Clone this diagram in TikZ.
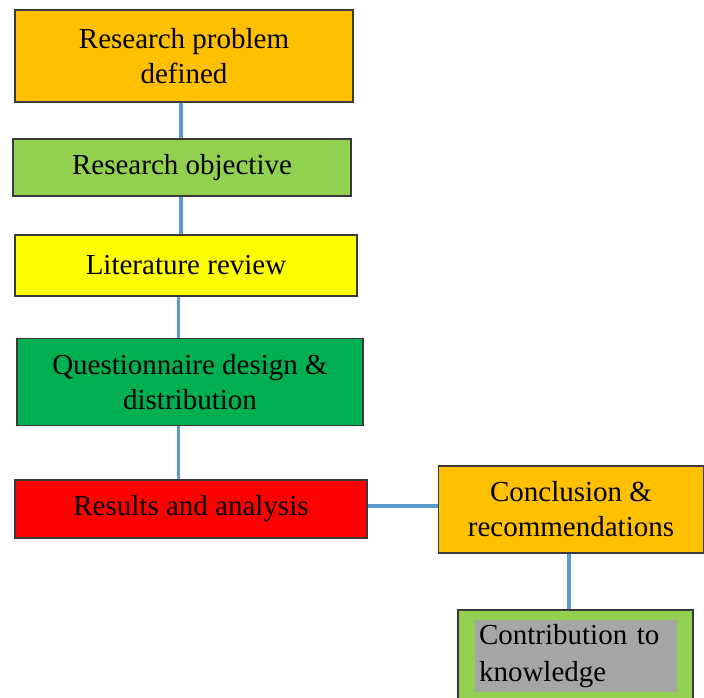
\documentclass[tikz,border=0pt]{standalone}
\usepackage{fontspec}
\setmainfont{Liberation Serif}
\definecolor{cOrange}{HTML}{FFC000}
\definecolor{cLime}{HTML}{92D050}
\definecolor{cYellow}{HTML}{FFFF00}
\definecolor{cGreen}{HTML}{00B050}
\definecolor{cRed}{HTML}{FF0000}
\definecolor{cGrey}{HTML}{A6A6A6}
\definecolor{cLink}{HTML}{5B9BD5}
\definecolor{cEdge}{HTML}{3A3A3A}
\begin{document}
\begin{tikzpicture}[x=1pt,y=-1pt,
  stagebox/.style={draw=cEdge, line width=1.2pt, rectangle, inner sep=0pt,
    align=center, font=\fontsize{29}{35}\selectfont},
  link/.style={draw=cLink, line width=3.5pt}]
\useasboundingbox (0,0) rectangle (704,698);

% process stages
\node[stagebox, fill=cOrange, minimum width=338pt, minimum height=92pt] (b1) at (184,56) {Research problem\\defined};
\node[stagebox, fill=cLime, minimum width=338pt, minimum height=57pt] (b2) at (182,167.5) {Research objective};
\node[stagebox, fill=cYellow, minimum width=342pt, minimum height=61pt] (b3) at (186,265.5) {Literature review};
\node[stagebox, fill=cGreen, minimum width=346pt, minimum height=87pt] (b4) at (190,382) {Questionnaire design \&\\distribution};
\node[stagebox, fill=cRed, minimum width=352pt, minimum height=58pt] (b5) at (191,509) {Results and analysis};
\node[stagebox, fill=cOrange, minimum width=265pt, minimum height=87pt] (b6) at (571,509.5) {Conclusion \&\\recommendations};
\node[stagebox, fill=cLime, minimum width=235pt, minimum height=100pt] (b7) at (575.5,660) {};
\node[fill=cGrey, inner sep=0pt, minimum width=202pt, minimum height=72pt,
  text width=194pt, align=left, font=\fontsize{29}{37}\selectfont] (b7t) at (576,656) {Contribution to\\knowledge};

% connectors
\draw[link] (b1.south -| 181,0) -- (b2.north -| 181,0);
\draw[link] (b2.south -| 181,0) -- (b3.north -| 181,0);
\draw[link] (b3.south -| 178.5,0) -- (b4.north -| 178.5,0);
\draw[link] (b4.south -| 178.5,0) -- (b5.north -| 178.5,0);
\draw[link] (b5.east |- 0,506) -- (b6.west |- 0,506);
\draw[link] (b6.south -| 569,0) -- (b7.north -| 569,0);
\end{tikzpicture}
\end{document}
